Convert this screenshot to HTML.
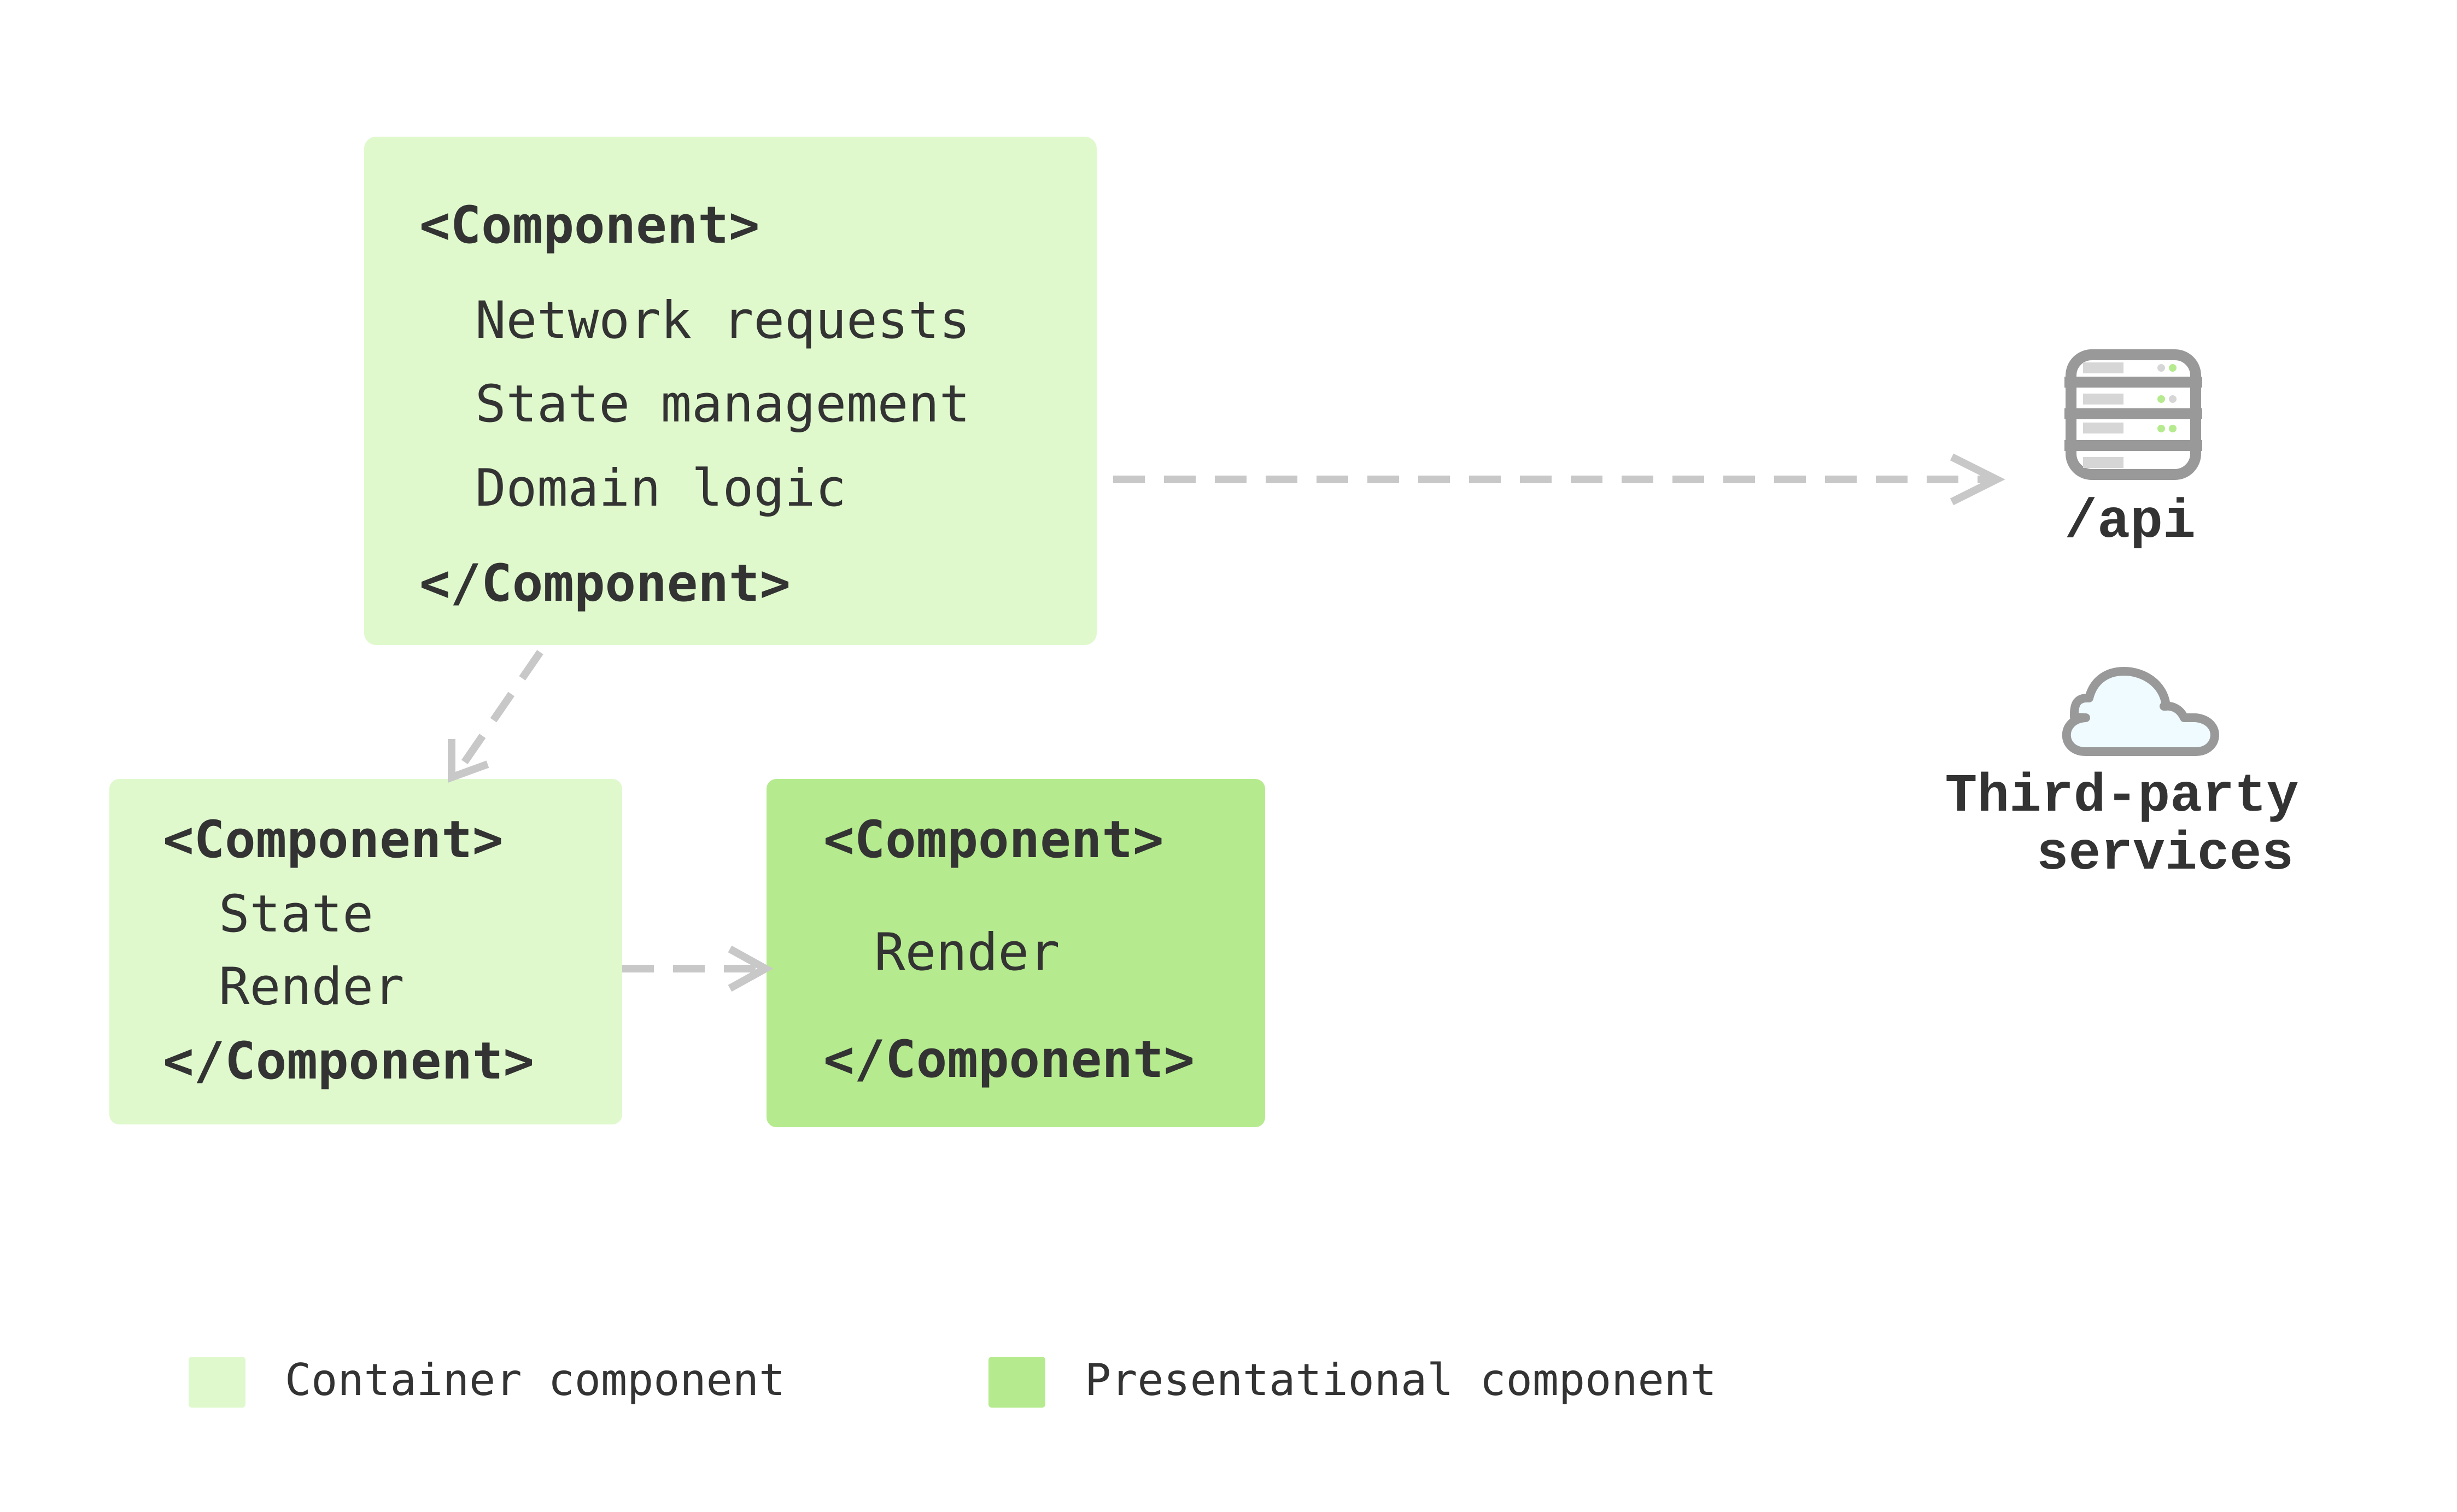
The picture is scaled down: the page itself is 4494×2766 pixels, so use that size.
<!DOCTYPE html>
<html><head><meta charset="utf-8"><style>
html,body{margin:0;padding:0;background:#fff}
svg{display:block}
text{font-family:"DejaVu Sans Mono","Liberation Mono",monospace;fill:#333}
.b{font-weight:bold}
.api{font-family:"Liberation Mono",monospace;font-weight:bold}
</style></head><body>
<svg width="4494" height="2766" viewBox="0 0 4494 2766" xmlns="http://www.w3.org/2000/svg">
<rect width="4494" height="2766" fill="#fff"/>
<!-- boxes -->
<rect x="666" y="250" width="1340" height="930" rx="22" fill="#dff9cc"/>
<rect x="200" y="1425" width="938" height="632" rx="18" fill="#dff9cc"/>
<rect x="1402" y="1425" width="912" height="637" rx="18" fill="#b5eb8e"/>
<!-- big box text -->
<g font-size="94">
<text class="b" x="767" y="444">&lt;Component&gt;</text>
<text x="869" y="618">Network requests</text>
<text x="869" y="771">State management</text>
<text x="869" y="925">Domain logic</text>
<text class="b" x="767" y="1099">&lt;/Component&gt;</text>
<text class="b" x="298" y="1568">&lt;Component&gt;</text>
<text x="400" y="1704">State</text>
<text x="400" y="1837">Render</text>
<text class="b" x="298" y="1973">&lt;/Component&gt;</text>
<text class="b" x="1506" y="1568">&lt;Component&gt;</text>
<text x="1599" y="1774">Render</text>
<text class="b" x="1506" y="1970">&lt;/Component&gt;</text>
</g>
<!-- arrows -->
<g stroke="#c8c8c8" stroke-width="14" fill="none">
<line x1="2036" y1="877" x2="3640" y2="877" stroke-dasharray="58 35"/>
<polyline points="3570,836 3652,877 3570,918"/>
<line x1="988" y1="1193" x2="836" y2="1414" stroke-dasharray="58 35"/>
<polyline points="826,1352 826,1422 892,1398"/>
<line x1="1138" y1="1772" x2="1392" y2="1772" stroke-dasharray="58 35"/>
<polyline points="1335,1736 1400,1772 1335,1808"/>
</g>
<!-- server icon -->
<g>
<rect x="3788" y="649" width="228" height="219" rx="38" fill="#fff" stroke="#999" stroke-width="20"/>
<rect x="3776" y="689" width="252" height="20" fill="#999"/>
<rect x="3776" y="747" width="252" height="20" fill="#999"/>
<rect x="3776" y="805" width="252" height="20" fill="#999"/>
<g fill="#d6d6d6">
<rect x="3810" y="663" width="74" height="20"/>
<rect x="3810" y="720" width="74" height="20"/>
<rect x="3810" y="773" width="74" height="20"/>
<rect x="3810" y="836" width="74" height="20"/>
</g>
<circle cx="3953" cy="673" r="7" fill="#d6d6d6"/><circle cx="3974" cy="673" r="7" fill="#b5eb8e"/>
<circle cx="3953" cy="730" r="7" fill="#b5eb8e"/><circle cx="3974" cy="730" r="7" fill="#d6d6d6"/>
<circle cx="3953" cy="784" r="7" fill="#b5eb8e"/><circle cx="3974" cy="784" r="7" fill="#b5eb8e"/>
</g>
<text class="api" x="3896" y="982" font-size="100" text-anchor="middle">/api</text>
<!-- cloud -->
<path d="M3815,1375 L4016,1375 C4060,1375 4065,1318 4016,1313 L3995,1313 C3988,1298 3975,1290 3958,1292 L3962,1292 C3958,1250 3920,1228 3885,1228 C3850,1228 3828,1248 3821,1277 C3800,1276 3793,1286 3794,1312 L3815,1313 C3768,1315 3768,1375 3815,1375 Z" fill="#f0fbff" stroke="#999" stroke-width="16" stroke-linejoin="round"/>
<text class="api" x="3881" y="1483" font-size="98" text-anchor="middle">Third-party</text>
<text class="api" x="3960" y="1589" font-size="98" text-anchor="middle">services</text>
<!-- legend -->
<rect x="345" y="2482" width="104" height="93" rx="6" fill="#dff9cc"/>
<text x="521" y="2552" font-size="80">Container component</text>
<rect x="1808" y="2482" width="104" height="93" rx="6" fill="#b5eb8e"/>
<text x="1984" y="2552" font-size="80">Presentational component</text>
</svg>
</body></html>
